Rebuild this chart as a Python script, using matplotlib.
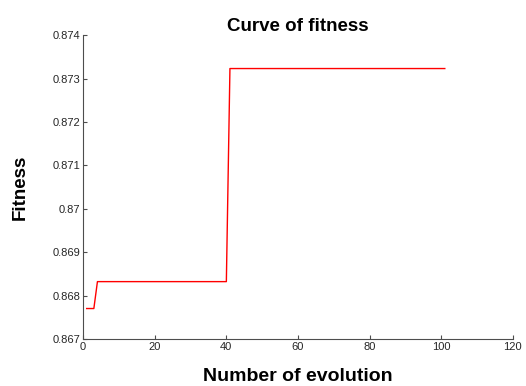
import matplotlib
matplotlib.use('Agg')
from matplotlib import pyplot as plt
from matplotlib.ticker import FuncFormatter

# 适应度曲线数据（阶跃变化的拐点）
gens = [1, 3, 4, 40, 41, 101]
fitness = [0.8677, 0.8677, 0.86832, 0.86832, 0.87323, 0.87323]
x_ticks = [0, 20, 40, 60, 80, 100, 120]
y_ticks = [0.867, 0.868, 0.869, 0.870, 0.871, 0.872, 0.873, 0.874]

plt.rcParams['font.family'] = ['Liberation Sans', 'DejaVu Sans']

fig = plt.figure(figsize=(5.26, 3.86), dpi=100)
ax = fig.add_axes([0.158, 0.122, 0.817, 0.787])

ax.plot(gens, fitness, color='red', linewidth=1)

ax.set_xlim(0, 120)
ax.set_ylim(0.867, 0.874)
ax.set_xticks(x_ticks)
ax.set_yticks(y_ticks)
ax.yaxis.set_major_formatter(FuncFormatter(lambda v, p: '%g' % round(v, 4)))

for s in ['top', 'right']:
    ax.spines[s].set_visible(False)
for s in ['left', 'bottom']:
    ax.spines[s].set_color('#4d4d4d')
    ax.spines[s].set_linewidth(0.8)
ax.tick_params(direction='in', length=3, width=0.8, colors='#4d4d4d',
               labelcolor='#262626', labelsize=8, pad=2)

ax.set_title('Curve of fitness', fontsize=13.5, fontweight='bold', pad=1)
ax.set_xlabel('Number of evolution', fontsize=14, fontweight='bold', labelpad=12)
ax.set_ylabel('Fitness', fontsize=13.5, fontweight='bold', labelpad=17)

plt.savefig('out.png', dpi=100)
